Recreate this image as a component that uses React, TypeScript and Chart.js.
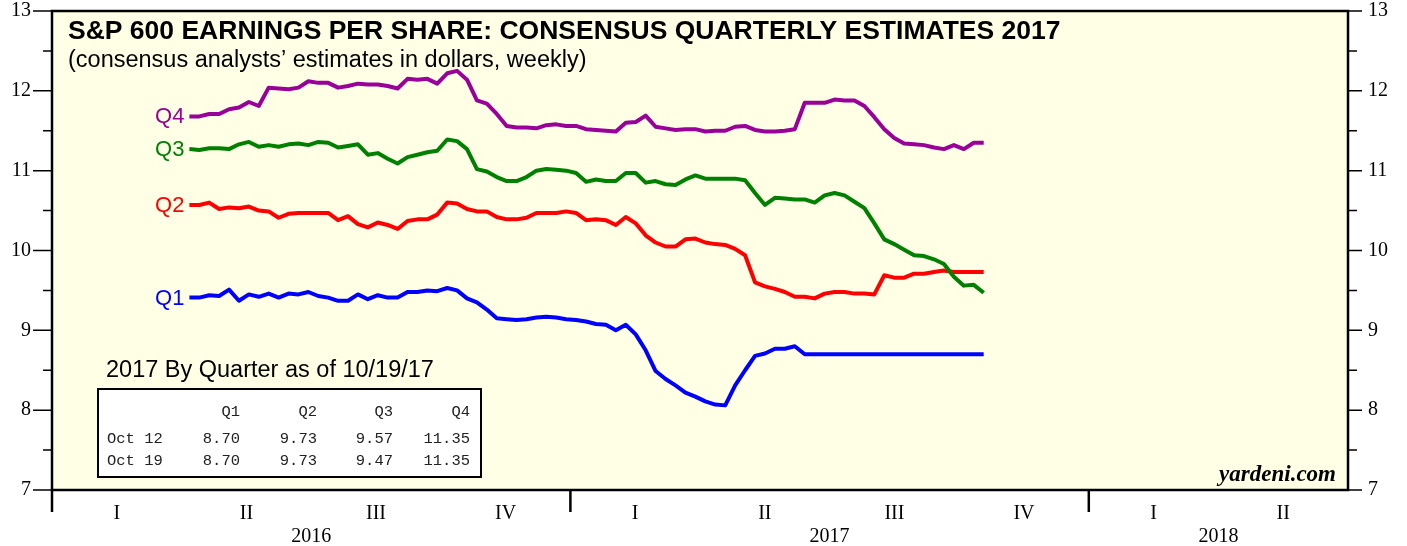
import React, { useEffect, useRef } from 'react';
import { Chart, registerables } from 'chart.js';
Chart.register(...registerables);

// first weekly observation (Thursday) — weekly through Oct 19, 2017
const FIRST_WEEK = '2016-04-07';
const SERIES_NAMES = ['Q4', 'Q3', 'Q2', 'Q1'];
const SERIES_COLORS = ['#990099', '#008000', '#FF0000', '#0000FF'];

const Q4 = [11.68, 11.68, 11.71, 11.71, 11.77, 11.79, 11.86, 11.81, 12.04, 12.03, 12.02, 12.04, 12.12, 12.10, 12.10, 12.04, 12.06, 12.09, 12.08, 12.08, 12.06, 12.03, 12.15, 12.14, 12.15, 12.09, 12.22, 12.25, 12.14, 11.88, 11.84, 11.71, 11.56, 11.54, 11.54, 11.53, 11.57, 11.58, 11.56, 11.56, 11.52, 11.51, 11.50, 11.49, 11.60, 11.61, 11.69, 11.55, 11.53, 11.51, 11.52, 11.52, 11.49, 11.50, 11.50, 11.55, 11.56, 11.51, 11.49, 11.49, 11.50, 11.52, 11.85, 11.85, 11.85, 11.89, 11.88, 11.88, 11.81, 11.67, 11.52, 11.41, 11.34, 11.33, 11.32, 11.29, 11.27, 11.32, 11.27, 11.35, 11.35];
const Q3 = [11.27, 11.26, 11.28, 11.28, 11.27, 11.33, 11.36, 11.30, 11.32, 11.30, 11.33, 11.34, 11.32, 11.36, 11.35, 11.29, 11.31, 11.33, 11.20, 11.22, 11.15, 11.09, 11.17, 11.20, 11.23, 11.25, 11.39, 11.37, 11.27, 11.02, 10.99, 10.92, 10.87, 10.87, 10.92, 11.00, 11.02, 11.01, 11.00, 10.97, 10.86, 10.89, 10.87, 10.87, 10.97, 10.97, 10.85, 10.87, 10.83, 10.82, 10.89, 10.94, 10.90, 10.90, 10.90, 10.90, 10.88, 10.72, 10.57, 10.66, 10.65, 10.64, 10.64, 10.60, 10.69, 10.72, 10.69, 10.61, 10.53, 10.34, 10.14, 10.08, 10.01, 9.94, 9.93, 9.89, 9.83, 9.67, 9.56, 9.57, 9.47];
const Q2 = [10.57, 10.57, 10.60, 10.52, 10.54, 10.53, 10.55, 10.50, 10.49, 10.41, 10.46, 10.47, 10.47, 10.47, 10.47, 10.38, 10.43, 10.33, 10.29, 10.35, 10.32, 10.27, 10.37, 10.39, 10.39, 10.45, 10.60, 10.59, 10.52, 10.49, 10.49, 10.42, 10.39, 10.39, 10.41, 10.47, 10.47, 10.47, 10.49, 10.47, 10.38, 10.39, 10.38, 10.32, 10.42, 10.34, 10.19, 10.10, 10.05, 10.05, 10.14, 10.15, 10.10, 10.08, 10.07, 10.02, 9.94, 9.60, 9.55, 9.52, 9.48, 9.42, 9.42, 9.40, 9.46, 9.48, 9.48, 9.46, 9.46, 9.45, 9.69, 9.66, 9.66, 9.71, 9.71, 9.73, 9.75, 9.73, 9.73, 9.73, 9.73];
const Q1 = [9.41, 9.41, 9.44, 9.43, 9.51, 9.37, 9.45, 9.42, 9.46, 9.41, 9.46, 9.45, 9.48, 9.43, 9.41, 9.37, 9.37, 9.45, 9.39, 9.44, 9.41, 9.41, 9.48, 9.48, 9.50, 9.49, 9.53, 9.50, 9.40, 9.35, 9.26, 9.15, 9.14, 9.13, 9.14, 9.16, 9.17, 9.16, 9.14, 9.13, 9.11, 9.08, 9.07, 9.00, 9.07, 8.95, 8.75, 8.49, 8.39, 8.31, 8.22, 8.17, 8.11, 8.07, 8.06, 8.31, 8.50, 8.68, 8.71, 8.77, 8.77, 8.80, 8.70, 8.70, 8.70, 8.70, 8.70, 8.70, 8.70, 8.70, 8.70, 8.70, 8.70, 8.70, 8.70, 8.70, 8.70, 8.70, 8.70, 8.70, 8.70];

const X_MIN = 2016;
const X_MAX = 2018.5;
const YEARS = [2016, 2017, 2018];
const QUARTER_LABELS = ['I', 'II', 'III', 'IV'];
const Y_MIN = 7;
const Y_MAX = 13;

const TITLE = 'S&P 600 EARNINGS PER SHARE: CONSENSUS QUARTERLY ESTIMATES 2017';
const SUBTITLE = '(consensus analysts\u2019 estimates in dollars, weekly)';
const TABLE_TITLE = '2017 By Quarter as of 10/19/17';
const TABLE_HEADERS = ['Q1', 'Q2', 'Q3', 'Q4'];
const TABLE_ROW_LABELS = ['Oct 12', 'Oct 19'];
const TABLE_OCT12 = ['8.70', '9.73', '9.57', '11.35'];
const TABLE_OCT19 = ['8.70', '9.73', '9.47', '11.35'];
const SOURCE = 'yardeni.com';

const SANS = '"Liberation Sans", Arial, Helvetica, sans-serif';
const SERIF = '"Liberation Serif", "Times New Roman", serif';
const MONO = '"Liberation Mono", "Courier New", monospace';

function fracYear(d: Date): number {
  const y = d.getUTCFullYear();
  const s = Date.UTC(y, 0, 1);
  const e = Date.UTC(y + 1, 0, 1);
  return y + (d.getTime() - s) / (e - s);
}

function weeklyX(n: number): number[] {
  const start = new Date(FIRST_WEEK + 'T00:00:00Z').getTime();
  const out: number[] = [];
  for (let i = 0; i < n; i++) out.push(fracYear(new Date(start + i * 7 * 86400000)));
  return out;
}

const decorPlugin = {
  id: 'decor',
  beforeDraw(chart: any) {
    const { ctx, chartArea: a } = chart;
    ctx.save();
    ctx.fillStyle = '#ffffff';
    ctx.fillRect(0, 0, chart.width, chart.height);
    ctx.fillStyle = '#FFFFE5';
    ctx.fillRect(a.left, a.top, a.right - a.left, a.bottom - a.top);
    ctx.restore();
  },
  afterDatasetsDraw(chart: any) {
    const { ctx, chartArea: a } = chart;
    const xs = chart.scales.x;
    const ys = chart.scales.y;
    ctx.save();

    // series labels at the first point
    chart.data.datasets.forEach((ds: any, i: number) => {
      const meta = chart.getDatasetMeta(i);
      const p = meta.data[0];
      ctx.font = `22px ${SANS}`;
      ctx.fillStyle = ds.borderColor;
      ctx.textAlign = 'right';
      ctx.textBaseline = 'middle';
      ctx.fillText(ds.label, p.x - 5, p.y + 1);
    });

    // titles
    ctx.fillStyle = '#000';
    ctx.textAlign = 'left';
    ctx.textBaseline = 'alphabetic';
    ctx.font = `bold 26.5px ${SANS}`;
    ctx.fillText(TITLE, a.left + 16, a.top + 28, 1002);
    ctx.font = `23.5px ${SANS}`;
    ctx.fillText(SUBTITLE, a.left + 16, a.top + 56, 530);

    // table
    ctx.font = `23.5px ${SANS}`;
    ctx.fillText(TABLE_TITLE, 106, 377, 335);
    ctx.fillStyle = '#ffffff';
    ctx.fillRect(98, 389, 383, 88);
    ctx.strokeStyle = '#000';
    ctx.lineWidth = 2;
    ctx.strokeRect(98, 389, 383, 88);
    ctx.fillStyle = '#222';
    ctx.font = `15.5px ${MONO}`;
    ctx.textBaseline = 'middle';
    const colX = [240, 317, 393, 470];
    ctx.textAlign = 'right';
    TABLE_HEADERS.forEach((h, i) => ctx.fillText(h, colX[i], 412));
    [TABLE_OCT12, TABLE_OCT19].forEach((row, r) => {
      const y = 439 + r * 22;
      ctx.textAlign = 'left';
      ctx.fillText(TABLE_ROW_LABELS[r], 107, y);
      ctx.textAlign = 'right';
      row.forEach((v, i) => ctx.fillText(v, colX[i], y));
    });

    // source
    ctx.fillStyle = '#000';
    ctx.font = `italic bold 23px ${SERIF}`;
    ctx.textAlign = 'right';
    ctx.textBaseline = 'alphabetic';
    ctx.fillText(SOURCE, a.right - 12, a.bottom - 9);

    // frame
    ctx.strokeStyle = '#000';
    ctx.lineWidth = 2.5;
    ctx.strokeRect(a.left, a.top, a.right - a.left, a.bottom - a.top);

    // y ticks both sides
    ctx.lineWidth = 1.5;
    ys.ticks.forEach((t: any) => {
      const y = ys.getPixelForValue(t.value);
      const major = Number.isInteger(t.value);
      ctx.beginPath();
      ctx.moveTo(a.left - (major ? 19 : 9), y);
      ctx.lineTo(a.left, y);
      ctx.moveTo(a.right, y);
      ctx.lineTo(a.right + (major ? 14 : 9), y);
      ctx.stroke();
    });

    // x axis: year ticks, quarter + year labels
    ctx.lineWidth = 2.5;
    YEARS.forEach((yr) => {
      const x = xs.getPixelForValue(yr);
      ctx.beginPath();
      ctx.moveTo(x, a.bottom);
      ctx.lineTo(x, a.bottom + 22);
      ctx.stroke();
    });
    ctx.font = `20px ${SERIF}`;
    ctx.textAlign = 'center';
    ctx.textBaseline = 'middle';
    YEARS.forEach((yr) => {
      QUARTER_LABELS.forEach((q, qi) => {
        const c = yr + (qi + 0.5) / 4;
        if (c < X_MAX) ctx.fillText(q, xs.getPixelForValue(c), a.bottom + 24);
      });
      const mid = (Math.max(yr, X_MIN) + Math.min(yr + 1, X_MAX)) / 2;
      ctx.fillText(String(yr), xs.getPixelForValue(mid), a.bottom + 47);
    });
    ctx.restore();
  },
};

const noEdgePadding = (s: any, w: number) => {
  s.width = w;
  s.paddingTop = 0;
  s.paddingBottom = 0;
};

export default function App() {
  const ref = useRef<HTMLCanvasElement>(null);
  useEffect(() => {
    document.body.style.margin = '0';
    const xVals = weeklyX(Q1.length);
    const all = [Q4, Q3, Q2, Q1];
    const chart = new Chart(ref.current!, {
      type: 'line',
      data: {
        datasets: all.map((vals, i) => ({
          label: SERIES_NAMES[i],
          data: vals.map((v, j) => ({ x: xVals[j], y: v })),
          borderColor: SERIES_COLORS[i],
          backgroundColor: SERIES_COLORS[i],
          borderWidth: 4,
          pointRadius: 0,
          tension: 0,
          borderJoinStyle: 'round',
          borderCapStyle: 'butt',
          fill: false,
        })),
      },
      options: {
        animation: false,
        responsive: false,
        devicePixelRatio: 1,
        layout: { padding: { top: 11, bottom: 56, left: 0, right: 0 } },
        plugins: { legend: { display: false }, tooltip: { enabled: false }, title: { display: false } },
        scales: {
          x: { type: 'linear', min: X_MIN, max: X_MAX, display: false },
          y: {
            type: 'linear',
            position: 'left',
            min: Y_MIN,
            max: Y_MAX,
            grid: { display: false, drawTicks: false },
            border: { display: false },
            ticks: {
              stepSize: 0.5,
              autoSkip: false,
              padding: 21,
              color: '#000',
              font: { family: SERIF, size: 20 },
              callback: (v: any) => (Number.isInteger(v) ? String(v) : ''),
            },
            afterFit: (s: any) => noEdgePadding(s, 52),
          },
          y2: {
            type: 'linear',
            position: 'right',
            min: Y_MIN,
            max: Y_MAX,
            grid: { display: false, drawTicks: false },
            border: { display: false },
            ticks: {
              stepSize: 0.5,
              autoSkip: false,
              padding: 20,
              color: '#000',
              font: { family: SERIF, size: 20 },
              callback: (v: any) => (Number.isInteger(v) ? String(v) : ''),
            },
            afterFit: (s: any) => noEdgePadding(s, 59),
          },
        },
      } as any,
      plugins: [decorPlugin],
    });
    return () => chart.destroy();
  }, []);
  return (
    <div style={{ width: 1407, height: 546 }}>
      <canvas ref={ref} width={1407} height={546} style={{ display: 'block' }} />
    </div>
  );
}
